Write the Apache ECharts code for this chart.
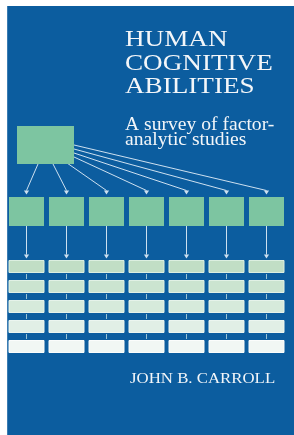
<!DOCTYPE html>
<html><head><meta charset="utf-8">
<script src="https://cdn.jsdelivr.net/npm/echarts@6/dist/echarts.min.js"></script>
<style>html,body{margin:0;padding:0;background:#fff}#c{width:294px;height:435px}</style>
</head><body><div id="c"></div>
<script>
// ---- content ----
const titleLines = ['HUMAN', 'COGNITIVE', 'ABILITIES'];
const subtitleLines = ['A survey of factor-', 'analytic studies'];
const author = 'JOHN B. CARROLL';
const generalFactor = ['G'];
const factors = ['F1', 'F2', 'F3', 'F4', 'F5', 'F6', 'F7'];
const testRows = ['T1', 'T2', 'T3', 'T4', 'T5'];

// ---- styles / layout (kept apart from content) ----
const C = {
  blue: '#0c5d9f', green: '#7dc5a1', line: 'rgba(222,236,246,0.92)',
  tick: 'rgba(175,212,222,0.85)', text: '#f3f6f9',
  rowFill: ['#c1dec5', '#cbe4d0', '#d6eadb', '#e1efe6', '#f1f7f4'],
  rowEdge: ['#dcefe0', '#e1f1e5', '#e6f3ea', '#ecf6f0', '#fbfdfc']
};
const L = {
  boxW: 0.875, genX: 0.475, genW: 1.425, genTop: 126, genBot: 164,
  facTop: 197, facBot: 226, tip1: 194.5, tip2: 258.5,
  rowTop: 260, rowStep: 20, rowH: 12,
  anchors: [[0.2875, 164], [0.6625, 164], [1.0125, 163], [1.1875, 157], [1.1875, 153], [1.1875, 149], [1.1875, 145]]
};

function rect(api, cx, w, top, bot, fill, stroke) {
  const a = api.coord([cx - w / 2, top]);
  const b = api.coord([cx + w / 2, bot]);
  return { type: 'rect', shape: { x: a[0], y: a[1], width: b[0] - a[0], height: b[1] - a[1] },
    style: { fill: fill, stroke: stroke || null, lineWidth: stroke ? 1 : 0 } };
}
function arrowHead(api, cx, tipY) {
  const t = api.coord([cx, tipY]);
  return { type: 'polygon', shape: { points: [[t[0] - 2.6, t[1] - 4], [t[0] + 2.6, t[1] - 4], [t[0], t[1]]] },
    style: { fill: C.line } };
}

const chart = echarts.init(document.getElementById('c'));
chart.setOption({
  backgroundColor: '#ffffff',
  animation: false,
  grid: { left: 0, right: 0, top: 0, bottom: 0 },
  xAxis: { type: 'value', min: -0.6625, max: 6.6875, show: false },
  yAxis: { type: 'value', min: 0, max: 435, inverse: true, show: false },
  graphic: [
    { type: 'rect', z: -10, shape: { x: 7, y: 6, width: 287, height: 429 }, style: { fill: C.blue } },
    { type: 'rect', z: -9, shape: { x: 7, y: 6, width: 1, height: 429 }, style: { fill: '#3a7cb2' } },
    ...titleLines.map((t, i) => ({ type: 'text', z: 50, x: 125, y: 40 + i * 23.5, scaleX: 1.18,
      style: { text: t, fill: C.text, fontFamily: 'Liberation Serif', fontSize: 23, align: 'left', verticalAlign: 'middle' } })),
    ...subtitleLines.map((t, i) => ({ type: 'text', z: 50, x: 125, y: 125.5 + i * 15, scaleX: 1.06,
      style: { text: t, fill: C.text, fontFamily: 'Liberation Serif', fontSize: 18.5, align: 'left', verticalAlign: 'middle' } })),
    { type: 'text', z: 50, x: 130, y: 379.5, scaleX: 1.2,
      style: { text: author, fill: C.text, fontFamily: 'Liberation Serif', fontSize: 14, align: 'left', verticalAlign: 'middle' } }
  ],
  series: [
    { // links from the general factor to each first-order factor
      type: 'custom', coordinateSystem: 'cartesian2d', silent: true,
      data: factors.map((f, i) => [i, i]),
      renderItem: (p, api) => {
        const i = api.value(1), cx = api.value(0);
        const s = api.coord(L.anchors[i]);
        const e = api.coord([cx, L.tip1 - 4]);
        return { type: 'group', children: [
          { type: 'line', shape: { x1: s[0], y1: s[1], x2: e[0], y2: e[1] }, style: { stroke: C.line, lineWidth: 1 } },
          arrowHead(api, cx, L.tip1)
        ] };
      }
    },
    { // general factor box
      type: 'custom', coordinateSystem: 'cartesian2d', silent: true,
      data: generalFactor.map(() => [L.genX]),
      renderItem: (p, api) => rect(api, api.value(0), L.genW, L.genTop, L.genBot, C.green)
    },
    { // first-order factor boxes and their arrows down to the tests
      type: 'custom', coordinateSystem: 'cartesian2d', silent: true,
      data: factors.map((f, i) => [i]),
      renderItem: (p, api) => {
        const cx = api.value(0);
        const s = api.coord([cx, L.facBot]);
        const e = api.coord([cx, L.tip2 - 4]);
        return { type: 'group', children: [
          rect(api, cx, L.boxW, L.facTop, L.facBot, C.green),
          { type: 'line', shape: { x1: s[0], y1: s[1], x2: e[0], y2: e[1] }, style: { stroke: C.line, lineWidth: 1 } },
          arrowHead(api, cx, L.tip2)
        ] };
      }
    },
    { // test variables
      type: 'custom', coordinateSystem: 'cartesian2d', silent: true,
      data: testRows.flatMap((r, ri) => factors.map((f, ci) => [ci, ri])),
      renderItem: (p, api) => {
        const cx = api.value(0), r = api.value(1);
        const top = L.rowTop + r * L.rowStep;
        const kids = [rect(api, cx, L.boxW, top + 0.5, top + L.rowH + 0.5, C.rowFill[r], C.rowEdge[r])];
        if (r < testRows.length - 1) {
          const a = api.coord([cx, top + L.rowH + 2]);
          const b = api.coord([cx, top + L.rowStep - 1]);
          kids.push({ type: 'line', shape: { x1: a[0], y1: a[1], x2: b[0], y2: b[1] }, style: { stroke: C.tick, lineWidth: 1 } });
        }
        return { type: 'group', children: kids };
      }
    }
  ]
});
</script></body></html>
